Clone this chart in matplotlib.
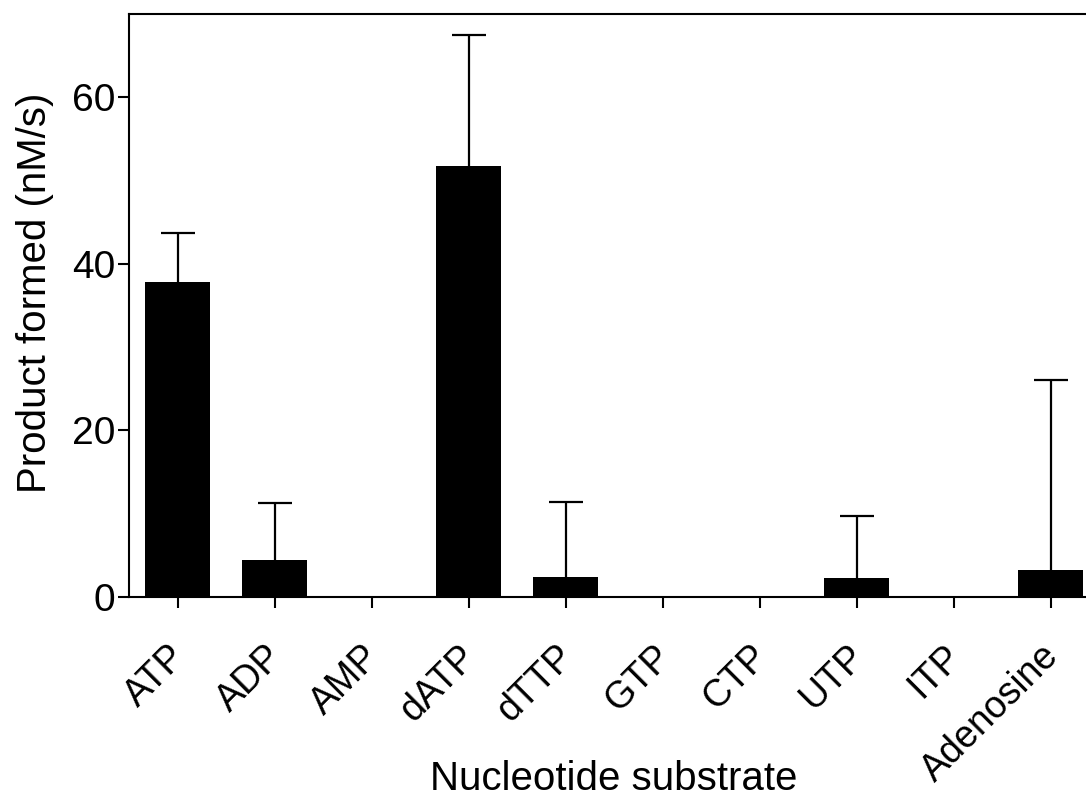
import matplotlib
matplotlib.use("Agg")
import matplotlib.pyplot as plt
import matplotlib.transforms as mtransforms
import numpy as np

substrates = ["ATP", "ADP", "AMP", "dATP", "dTTP", "GTP", "CTP", "UTP", "ITP", "Adenosine"]
rate = [37.8, 4.4, 0.0, 51.7, 2.4, 0.0, 0.0, 2.3, 0.0, 3.25]
rate_err = [5.85, 6.8, 0.0, 15.8, 9.0, 0.0, 0.0, 7.35, 0.0, 22.75]

plt.rcParams["font.family"] = ["Liberation Sans", "DejaVu Sans"]

W, H = 1086, 798
fig = plt.figure(figsize=(W / 100, H / 100), dpi=100)
left, bottom, top = 129, 596.7, 14
ax = fig.add_axes([left / W, (H - bottom) / H, 970 / W, (bottom - top) / H])

x = np.arange(len(substrates))
shown = [i for i, e in enumerate(rate_err) if e > 0]
ax.bar(x, rate, width=0.68, color="black", edgecolor="black", linewidth=0, zorder=2)
_, caps, _ = ax.errorbar([x[i] for i in shown], [rate[i] for i in shown],
                         yerr=[[0] * len(shown), [rate_err[i] for i in shown]],
                         fmt="none", ecolor="black", elinewidth=1.6, capsize=12,
                         capthick=1.6, zorder=3)
# only the upper caps are drawn (one-sided SD bars)
for c in caps:
    if np.allclose(c.get_ydata(), [rate[i] for i in shown]):
        c.set_visible(False)

ax.set_xlim(-0.5, 9.5)
ax.set_ylim(0, 70)
ax.set_yticks([0, 20, 40, 60])
ax.set_xticks(x)
ax.set_xticklabels(substrates, rotation=45, ha="right", rotation_mode="anchor")
ax.tick_params(axis="both", direction="out", length=7.8, width=1.5, labelsize=28, pad=2)
ax.tick_params(axis="x", pad=12, labelsize=27)
shift = mtransforms.ScaledTranslation(-10 / 100, -14 / 100, fig.dpi_scale_trans)
for lab in ax.get_xticklabels():
    lab.set_transform(lab.get_transform() + shift)
for side in ("left", "top", "bottom", "right"):
    ax.spines[side].set_linewidth(1.5)

fig.text(35 / W, 1 - 293 / H, "Product formed (nM/s)", fontsize=29,
         rotation=90, ha="center", va="center")
fig.text(614 / W, 1 - 790 / H, "Nucleotide substrate", fontsize=29,
         ha="center", va="baseline")

fig.savefig("out.png", dpi=100)
